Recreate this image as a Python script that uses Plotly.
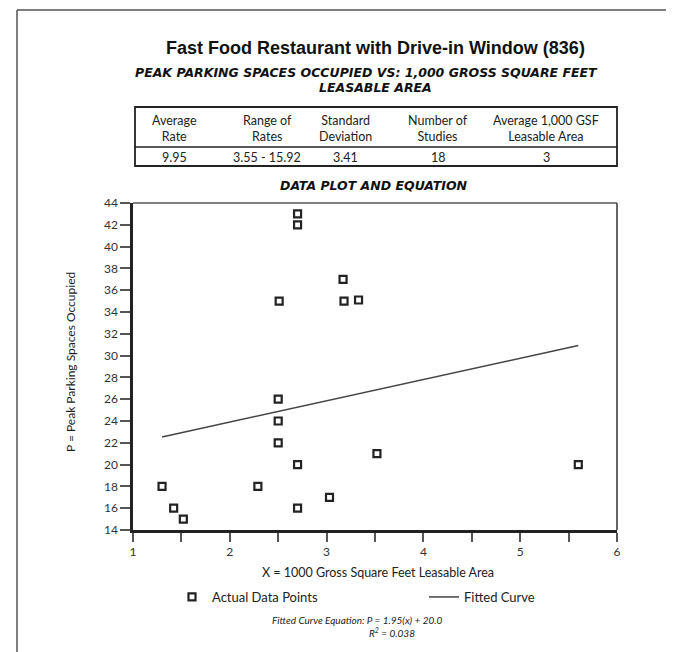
import plotly.graph_objects as go

# ---- data ----
x_area = [1.30, 1.42, 1.52, 2.29, 2.50, 2.50, 2.50, 2.51, 2.70, 2.70, 2.70, 2.70,
          3.03, 3.17, 3.18, 3.33, 3.52, 5.60]
p_spaces = [18, 16, 15, 18, 22, 24, 26, 35, 16, 20, 42, 43,
            17, 37, 35, 35.1, 21, 20]
fit_slope = 1.95
fit_intercept = 20.0
fit_x = [min(x_area), max(x_area)]
fit_y = [fit_slope * v + fit_intercept for v in fit_x]

table_headers = ["Average<br>Rate", "Range of<br>Rates", "Standard<br>Deviation",
                 "Number of<br>Studies", "Average 1,000 GSF<br>Leasable Area"]
table_values = ["9.95", "3.55 - 15.92", "3.41", "18", "3"]

y_tickvals = list(range(14, 45, 2))

# page body has an 8px margin, so the figure is drawn 8px smaller / shifted
OFF = 8
W, H = 674 - OFF, 652 - OFF
L, R, T, B = 133, 617, 203, 530  # plot area in reference px


def px(xp):
    return (xp - L) / (R - L)


def py(yp):
    return (B - yp) / (B - T)


BODY = "Lato, Open Sans, sans-serif"
HEAD = "Liberation Sans, Arial, sans-serif"
SUB = "DejaVu Sans, sans-serif"
DARK = "#222"

fig = go.Figure()
fig.add_trace(go.Scatter(
    x=x_area, y=p_spaces, mode="markers", name="Actual Data Points", legend="legend",
    marker=dict(symbol="square-open", size=7, color="#222", line=dict(width=2.2)),
))
fig.add_trace(go.Scatter(
    x=fit_x, y=fit_y, mode="lines", name="Fitted Curve", legend="legend2",
    line=dict(color="#444", width=1.5),
))

shapes = []
# page border
shapes.append(dict(type="line", xref="paper", yref="paper", x0=px(17), x1=px(690),
                   y0=py(10), y1=py(10), line=dict(color="#555", width=1.5)))
shapes.append(dict(type="line", xref="paper", yref="paper", x0=px(17), x1=px(17),
                   y0=py(10), y1=py(670), line=dict(color="#555", width=1.5)))
# plot top/right frame
shapes.append(dict(type="line", xref="paper", yref="paper", x0=0, x1=1, y0=1, y1=1,
                   line=dict(color="#555", width=1.5)))
shapes.append(dict(type="line", xref="paper", yref="paper", x0=1, x1=1, y0=0, y1=1,
                   line=dict(color="#555", width=1.8)))
# table
shapes.append(dict(type="rect", xref="paper", yref="paper", x0=px(135), x1=px(617),
                   y0=py(166), y1=py(107), line=dict(color="#222", width=1.8)))
shapes.append(dict(type="line", xref="paper", yref="paper", x0=px(135), x1=px(617),
                   y0=py(147), y1=py(147), line=dict(color="#222", width=1.5)))

col_centers = [174, 267, 345, 438, 546]
annotations = []
for cx, h, v in zip(col_centers, table_headers, table_values):
    annotations.append(dict(text=h, x=px(cx), y=py(129), xref="paper", yref="paper",
                            showarrow=False, xanchor="center", yanchor="middle",
                            font=dict(family=BODY, size=12.5, color=DARK)))
    annotations.append(dict(text=v, x=px(cx), y=py(157), xref="paper", yref="paper",
                            showarrow=False, xanchor="center", yanchor="middle",
                            font=dict(family=BODY, size=12.5, color=DARK)))

annotations += [
    dict(text="<b>Fast Food Restaurant with Drive-in Window (836)</b>", x=px(375), y=py(48),
         xref="paper", yref="paper", showarrow=False, xanchor="center", yanchor="middle",
         font=dict(family=HEAD, size=18, color="#111")),
    dict(text="<b><i>PEAK PARKING SPACES OCCUPIED VS: 1,000 GROSS SQUARE FEET</i></b>",
         x=px(366), y=py(72), xref="paper", yref="paper", showarrow=False,
         xanchor="center", yanchor="middle", font=dict(family=SUB, size=12.5, color="#111")),
    dict(text="<b><i>LEASABLE AREA</i></b>", x=px(375), y=py(87), xref="paper", yref="paper",
         showarrow=False, xanchor="center", yanchor="middle",
         font=dict(family=SUB, size=12.5, color="#111")),
    dict(text="<b><i>DATA PLOT AND EQUATION</i></b>", x=px(374), y=py(185), xref="paper",
         yref="paper", showarrow=False, xanchor="center", yanchor="middle",
         font=dict(family=SUB, size=12.5, color="#111")),
    dict(text="X = 1000 Gross Square Feet Leasable Area", x=px(378), y=py(572), xref="paper",
         yref="paper", showarrow=False, xanchor="center", yanchor="middle",
         font=dict(family=BODY, size=12.5, color=DARK)),
    dict(text="P = Peak Parking Spaces Occupied", x=px(70), y=py(362), xref="paper",
         yref="paper", showarrow=False, xanchor="center", yanchor="middle", textangle=-90,
         font=dict(family=BODY, size=12, color=DARK)),
    dict(text="<i>Fitted Curve Equation: P = 1.95(x) + 20.0</i>", x=px(357), y=py(620),
         xref="paper", yref="paper", showarrow=False, xanchor="center", yanchor="middle",
         font=dict(family=BODY, size=10, color=DARK)),
    dict(text="<i>R<sup>2</sup> = 0.038</i>", x=px(392), y=py(632), xref="paper", yref="paper",
         showarrow=False, xanchor="center", yanchor="middle",
         font=dict(family=BODY, size=10, color=DARK)),
]

tickfont = dict(family=BODY, size=12, color="#333")

fig.update_layout(
    width=W, height=H,
    margin=dict(l=L - OFF, r=W - (R - OFF), t=T - OFF, b=H - (B - OFF), autoexpand=False),
    paper_bgcolor="white", plot_bgcolor="white",
    showlegend=True,
    legend=dict(orientation="h", x=px(172), y=py(597), xanchor="left", yanchor="middle",
                bgcolor="rgba(0,0,0,0)", font=dict(family=BODY, size=13, color=DARK)),
    legend2=dict(orientation="h", x=px(424), y=py(597), xanchor="left", yanchor="middle",
                 bgcolor="rgba(0,0,0,0)", font=dict(family=BODY, size=13, color=DARK)),
    shapes=shapes, annotations=annotations,
    xaxis=dict(range=[1, 6], dtick=1, tick0=1, ticks="outside",
               ticklen=9, tickwidth=1.5, tickcolor="#555", showline=True, linecolor="#222",
               linewidth=2.5, showgrid=False, zeroline=False, tickfont=tickfont,
               minor=dict(dtick=0.5, tick0=1, ticks="outside", ticklen=9, tickwidth=1.5,
                          tickcolor="#555", showgrid=False)),
    yaxis=dict(range=[14, 44], tickvals=y_tickvals, ticks="outside", ticklen=10,
               tickwidth=1.5, tickcolor="#555", showline=True, linecolor="#222", linewidth=2.5,
               showgrid=False, zeroline=False, tickfont=tickfont),
)

fig.write_html("out.html")
